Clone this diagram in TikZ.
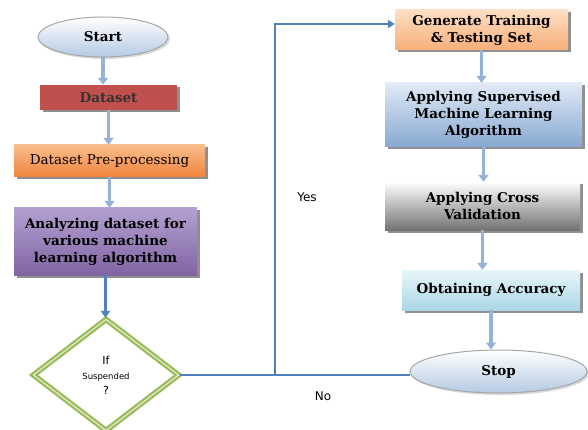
\documentclass[tikz,border=0pt]{standalone}
\usepackage{fontspec}
\setmainfont{DejaVu Serif}
\newfontfamily\sansf{DejaVu Sans}
\usetikzlibrary{shapes.geometric,shadows,arrows.meta}
\definecolor{flowblue}{HTML}{95B3D7}
\definecolor{linkblue}{HTML}{4F81BD}
\definecolor{grn}{HTML}{9BBB59}
\tikzset{
  box/.style={rectangle, draw=none, align=center, font=\bfseries\fontsize{13.5}{17}\selectfont,
    drop shadow={shadow xshift=2.5pt, shadow yshift=-2.5pt, fill=black!55, opacity=0.8}},
  oval/.style={ellipse, draw=black!35, line width=1pt, top color=white, bottom color=flowblue!70,
    font=\bfseries\fontsize{13.5}{16}\selectfont, drop shadow={shadow xshift=2pt, shadow yshift=-2pt, fill=black!30}},
  flow/.style={draw=flowblue, line width=3.5pt, -{Triangle[width=10pt,length=7pt]}},
  link/.style={draw=linkblue, line width=2.2pt},
  lab/.style={font=\sansf\fontsize{12}{14}\selectfont}
}
\begin{document}
\begin{tikzpicture}[x=1pt,y=-1pt]
\useasboundingbox (0,0) rectangle (588,430);
\node[oval, minimum width=130pt, minimum height=40pt] (start) at (103,37) {Start};
\node[box, minimum width=137pt, minimum height=25pt, fill={rgb,255:red,192;green,80;blue,77}, text=black!80] (data) at (108.5,97.5) {Dataset};
\node[box, minimum width=191pt, minimum height=32pt, top color={rgb,255:red,250;green,190;blue,140}, bottom color={rgb,255:red,240;green,130;blue,60}, font=\fontsize{13.5}{16}\selectfont] (pre) at (109.5,161) {Dataset Pre-processing};
\node[box, minimum width=183pt, minimum height=67pt, top color={rgb,255:red,180;green,160;blue,210}, bottom color={rgb,255:red,128;green,100;blue,162}] (ana) at (105.5,241.5) {Analyzing dataset for\\ various machine\\ learning algorithm};
\node[diamond, draw=grn, line width=2.2pt, double=grn!30, double distance=1.2pt, fill=white, minimum width=146pt, minimum height=112pt, inner sep=0pt, align=center, font=\sansf\fontsize{11}{15}\selectfont] (dia) at (106,375) {If\\ {\fontsize{8.5}{10}\selectfont Suspended}\\ ?};

\node[box, minimum width=173pt, minimum height=40pt, top color={rgb,255:red,252;green,222;blue,196}, bottom color={rgb,255:red,248;green,175;blue,120}] (gen) at (481.5,30) {Generate Training\\ \& Testing Set};
\node[box, minimum width=197pt, minimum height=64pt, top color={rgb,255:red,225;green,234;blue,246}, bottom color={rgb,255:red,135;green,168;blue,210}] (sup) at (483.5,115) {Applying Supervised\\ Machine Learning\\ Algorithm};
\node[box, minimum width=195pt, minimum height=48pt, top color=white, bottom color=black!55] (cross) at (482.5,206) {Applying Cross\\ Validation};
\node[box, minimum width=178pt, minimum height=40pt, top color={rgb,255:red,232;green,246;blue,250}, bottom color={rgb,255:red,170;green,215;blue,230}] (acc) at (491,290) {Obtaining Accuracy};
\node[oval, minimum width=177pt, minimum height=43pt] (stop) at (498.5,371.5) {Stop};

\draw[flow] (start.south) -- (start.south |- data.north);
\draw[flow] (data.south) -- (data.south |- pre.north);
\draw[flow] (pre.south) -- (pre.south |- ana.north);
\draw[link, -{Triangle[width=9pt,length=7pt]}] (ana.south) -- (ana.south |- dia.north);
\draw[flow] (gen.south) -- (gen.south |- sup.north);
\draw[flow] (sup.south) -- (sup.south |- cross.north);
\draw[flow] (cross.south) -- (cross.south |- acc.north);
\draw[flow] (acc.south) -- (acc.south |- stop.north);

\coordinate (j) at (275,375);
\draw[link] (dia.east) -- (dia.east -| stop.west);
\draw[link, -{Triangle[width=8pt,length=7pt]}] (j) |- ([yshift=6pt]gen.west);
\node[lab] (yes) at (307,197) {Yes};
\node[lab] (no) at (323,396) {No};
\end{tikzpicture}
\end{document}
